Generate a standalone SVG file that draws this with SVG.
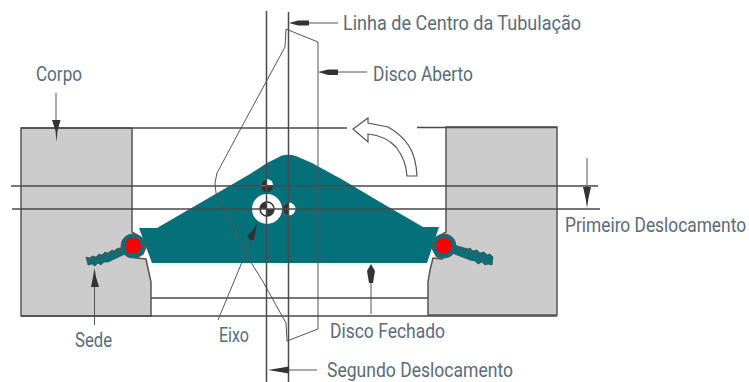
<svg xmlns="http://www.w3.org/2000/svg" width="749" height="382" viewBox="0 0 749 382">
<defs>
<style>
.l{stroke:#4a4a4a;stroke-width:1.5;fill:none}
.t{stroke:#555;stroke-width:1;fill:none}
.h{fill:#333;stroke:none}
.b{fill:#cccccc;stroke:#555;stroke-width:1.5}
.s{fill:#04707a;stroke:#444;stroke-width:.7}
text{font-family:"Roboto","Liberation Sans",sans-serif;font-size:20px;fill:#5b6b78}
</style>
</defs>
<rect width="749" height="382" fill="#fff"/>
<g id="corpo-esquerdo"><path class="b" d="M21 128H132V232L142 238L146 247L143 254L136 258L146 259L149 273L151 282V316H21Z"/></g>
<g id="corpo-direito"><path class="b" d="M446 127H557V315H428V282L430 270L433 258L443 259L436 256L433 247L436 238L446 232Z"/></g>
<g id="disco-fechado"><path fill="#04707a" d="M139 228H157L250 174L267 163L282 155.500Q288 154 296 156L312 163L343 180L380 202L423 227H439L427 263H152Z"/></g>
<g id="sede-esquerda">
<path class="s" d="M124 247L116 249L115 251L112 250L108 253L105 252L102 255L99 254L96 257L92 256L90 258L86 257L88 265L92 264L95 266L98 263L101 265L104 262L108 262L125 254Z"/>
<path class="t" d="M122 250L88 261"/>
<circle cx="133" cy="246" r="12" fill="#04707a" stroke="#555"/>
<circle cx="133" cy="246" r="8" fill="#f00"/>
</g>
<g id="sede-direita">
<path class="s" d="M454 245L468 249L470 248L473 251L477 250L480 253L484 252L487 255L490 254L493 257L492 265L488 264L485 265L482 262L478 264L475 261L470 260L452 253Z"/>
<path class="t" d="M456 249L491 260"/>
<circle cx="444" cy="246" r="12" fill="#04707a" stroke="#555"/>
<circle cx="444" cy="246" r="8" fill="#f00"/>
</g>
<g id="eixo-pontos">
<circle cx="267" cy="209" r="15" fill="#fff"/>
<circle cx="267" cy="209" r="7" fill="#fff" stroke="#333" stroke-width="1.500"/>
<path class="h" d="M267 202A7 7 0 0 0 260 209H267ZM267 209V216A7 7 0 0 0 274 209Z"/>
<circle cx="267" cy="185" r="6" fill="#fff"/>
<path class="h" d="M261 185A6 6 0 0 1 267 179V185ZM267 185H273A6 6 0 0 1 267 191Z"/>
<path class="h" d="M267 192A6 6 0 0 1 261 186H273A6 6 0 0 1 267 192Z"/>
<circle cx="289" cy="209" r="6.500" fill="#fff"/>
<path class="h" d="M289 202.500A6.500 6.500 0 0 0 282.500 209V209A6.500 6.500 0 0 0 289 215.500Z"/>
</g>
<g id="disco-aberto"><path class="t" d="M286 29L318 42V329L287 341L286 323L262 280L245 253L216 193L215 183L217 173L240 130L285 47Z" stroke-width="1.200"/></g>
<g id="seta-curva"><path d="M353 129L368 118V123L388 127Q402 135 409 146Q416 157 417 176H407Q406 160 396 147Q386 136 368 134V142Z" fill="#fff" stroke="#555" stroke-width="1.200"/></g>
<g id="connectors">
<path class="l" d="M21 128H347M417 127.500H557M11 186H598M12 209H600M151 298H428M21 316H557"/>
<path class="l" d="M266.500 11V382M288.500 12V382"/>
<path class="t" d="M56 93V122M94.500 285V325M218 320L252 238M371 280V314M338 23H305M367 72H335M587 158V190M317 370H285" stroke-width="1.200"/>
<path class="h" d="M52 120H60.500L57.500 131L56.500 142L55.500 131Z"/>
<path class="h" d="M94.500 268L96 277L99 287H91L93 277Z"/>
<path class="h" d="M257 224L254 240L250 240L247 236L252 231Z"/>
<path class="h" d="M371 264L375 271L373 283H369L367 271Z"/>
<path class="h" d="M289 23L298 20.500H309V25.500H298Z"/>
<path class="h" d="M318 72L328 69.500H338V75H328Z"/>
<path class="h" d="M587 208L585.500 198L583 187H591L588.500 198Z"/>
<path class="h" d="M268 370L280 368L289 366.500V373.500L280 372Z"/>
</g>
<g id="rotulos">
<text x="343" y="30" textLength="238" lengthAdjust="spacingAndGlyphs">Linha de Centro da Tubulação</text>
<text x="373" y="81" textLength="100" lengthAdjust="spacingAndGlyphs">Disco Aberto</text>
<text x="36" y="81" textLength="46" lengthAdjust="spacingAndGlyphs">Corpo</text>
<text transform="translate(565 232) scale(.88 1)" textLength="205.700" lengthAdjust="spacingAndGlyphs">Primeiro Deslocamento</text>
<text x="330" y="338" textLength="115" lengthAdjust="spacingAndGlyphs">Disco Fechado</text>
<text x="75" y="347" textLength="37" lengthAdjust="spacingAndGlyphs">Sede</text>
<text x="219" y="342" textLength="30" lengthAdjust="spacingAndGlyphs">Eixo</text>
<text x="327" y="377" textLength="186" lengthAdjust="spacingAndGlyphs">Segundo Deslocamento</text>
</g>
</svg>
